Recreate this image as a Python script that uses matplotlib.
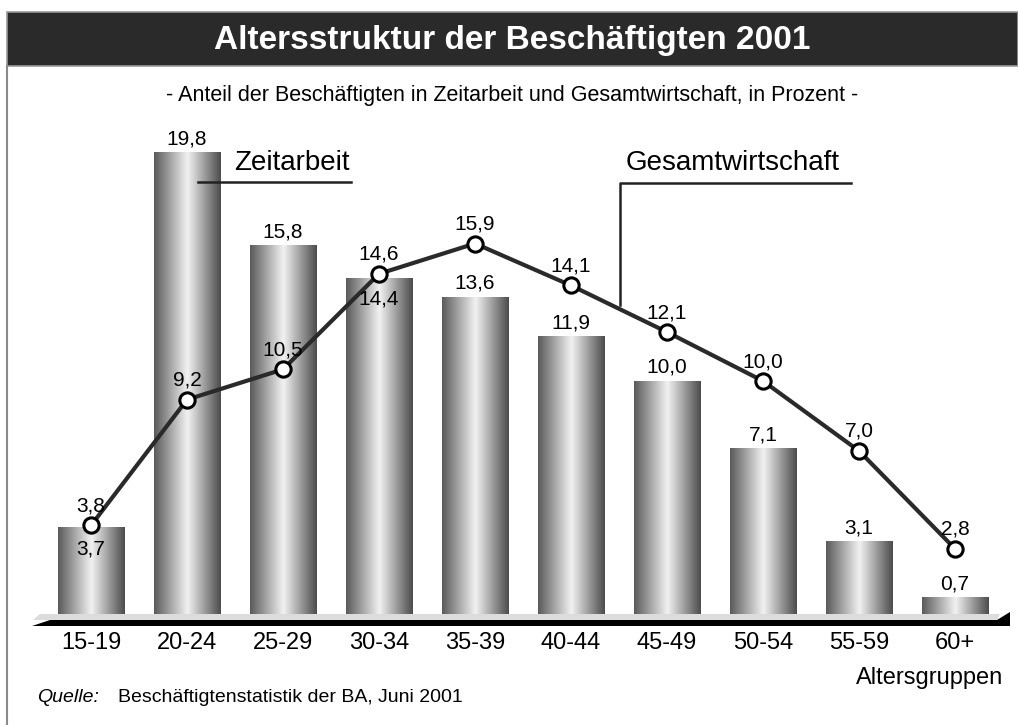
import numpy as np
import matplotlib
matplotlib.use("Agg")
import matplotlib.pyplot as plt
from matplotlib.patches import Rectangle, Polygon
from matplotlib.colors import LinearSegmentedColormap

plt.rcParams['font.family'] = ['Liberation Sans', 'DejaVu Sans']

# data
age_groups = ['15-19', '20-24', '25-29', '30-34', '35-39',
              '40-44', '45-49', '50-54', '55-59', '60+']
zeitarbeit = [3.7, 19.8, 15.8, 14.4, 13.6, 11.9, 10.0, 7.1, 3.1, 0.7]
gesamtwirtschaft = [3.8, 9.2, 10.5, 14.6, 15.9, 14.1, 12.1, 10.0, 7.0, 2.8]
# bar labels placed inside the bar (where the line sits on top)
inside_labels = ['15-19', '30-34']

W, H = 1018, 725
fig = plt.figure(figsize=(W / 100, H / 100), dpi=100)

# background layer in pixel coordinates (title bar, frame, axis band)
bg = fig.add_axes([0, 0, 1, 1], zorder=0)
bg.set_xlim(0, W)
bg.set_ylim(H, 0)
bg.axis('off')
bg.add_patch(Rectangle((7, 12), W - 7, 54, facecolor='#2a2a2a',
                       edgecolor='#9a9a9a', lw=1.2))
bg.plot([7, 7], [66, H], color='#8a8a8a', lw=1.5)
# 3d-ish baseline
bg.add_patch(Polygon([(33, 620), (40, 614), (1000, 614), (997, 620)],
                     closed=True, facecolor='#dcdcdc', edgecolor='none'))
bg.add_patch(Polygon([(32, 626), (50, 620), (997, 620), (1010, 612), (1010, 626)],
                     closed=True, facecolor='black', edgecolor='none'))

fig.text(512 / W, 1 - 40 / H, 'Altersstruktur der Beschäftigten 2001',
         color='white', fontsize=24, fontweight='bold', ha='center', va='center')
fig.text(512 / W, 1 - 96 / H,
         '- Anteil der Beschäftigten in Zeitarbeit und Gesamtwirtschaft, in Prozent -',
         fontsize=15.5, ha='center', va='center')

# main chart: 96 px per category, 23.3 px per percent, baseline at y=614 px
px_x = 96.0
px_y = 23.3
x0, y0 = 91, 614
left_px, right_px, top_px, bot_px = 33, 1010, 120, 626
ax = fig.add_axes([left_px / W, 1 - bot_px / H,
                   (right_px - left_px) / W, (bot_px - top_px) / H], zorder=1)
ax.patch.set_visible(False)
x = np.arange(len(age_groups))

bars = ax.bar(x, zeitarbeit, width=0.69, facecolor='none', edgecolor='none', zorder=2)
cmap = LinearSegmentedColormap.from_list(
    'cyl', [(0, '#5a5a5a'), (0.5, '#f2f2f2'), (1, '#4c4c4c')])
grad = np.linspace(0, 1, 256).reshape(1, -1)
for b in bars:
    ax.imshow(grad, extent=[b.get_x(), b.get_x() + b.get_width(), 0, b.get_height()],
              aspect='auto', cmap=cmap, zorder=2, interpolation='bilinear')

ax.plot(x, gesamtwirtschaft, color='#2a2a2a', lw=3, zorder=3,
        marker='o', markersize=11, markerfacecolor='white',
        markeredgecolor='black', markeredgewidth=2.2)

fmt = lambda v: f'{v:.1f}'.replace('.', ',')
for xi, grp, bv, lv in zip(x, age_groups, zeitarbeit, gesamtwirtschaft):
    ax.annotate(fmt(lv), (xi, lv), xytext=(0, 14), textcoords='offset points',
                ha='center', va='center', fontsize=15, zorder=4)
    off = -15 if grp in inside_labels else 10
    ax.annotate(fmt(bv), (xi, bv), xytext=(0, off), textcoords='offset points',
                ha='center', va='center', fontsize=15, zorder=4)

# callouts
ax.plot([1.115, 2.708], [18.54, 18.54], color='#222222', lw=1.8, zorder=4)
ax.text(1.49, 19.36, 'Zeitarbeit', fontsize=20, ha='left', va='center')
ax.plot([5.51, 5.51, 7.92], [13.26, 18.5, 18.5], color='#222222', lw=1.8, zorder=4)
ax.text(5.57, 19.36, 'Gesamtwirtschaft', fontsize=20, ha='left', va='center')

ax.set_xlim((left_px - x0) / px_x, (right_px - x0) / px_x)
ax.set_ylim((y0 - bot_px) / px_y, (y0 - top_px) / px_y)
ax.set_xticks(x, age_groups, fontsize=17)
ax.tick_params(axis='x', length=0, pad=4)
ax.set_yticks([])
for s in ax.spines.values():
    s.set_visible(False)

fig.text(1003 / W, 1 - 678 / H, 'Altersgruppen', fontsize=17, ha='right', va='center')
fig.text(37 / W, 1 - 698 / H, 'Quelle:', fontsize=14, style='italic', ha='left', va='center')
fig.text(118 / W, 1 - 698 / H, 'Beschäftigtenstatistik der BA, Juni 2001',
         fontsize=14, ha='left', va='center')

fig.savefig('out.png', dpi=100)
